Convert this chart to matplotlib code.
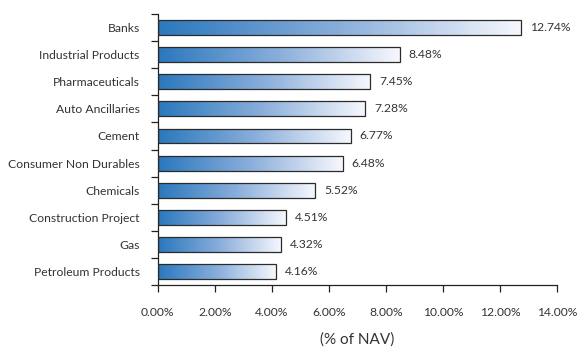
import matplotlib
matplotlib.use("Agg")
import matplotlib.pyplot as plt
import numpy as np
from matplotlib.colors import LinearSegmentedColormap
from matplotlib.ticker import FixedLocator

categories = ["Banks", "Industrial Products", "Pharmaceuticals", "Auto Ancillaries",
              "Cement", "Consumer Non Durables", "Chemicals", "Construction Project",
              "Gas", "Petroleum Products"]
values = [12.74, 8.48, 7.45, 7.28, 6.77, 6.48, 5.52, 4.51, 4.32, 4.16]
xticks = [0, 2, 4, 6, 8, 10, 12, 14]

plt.rcParams['font.family'] = ['Lato', 'DejaVu Sans']
fs = 8.7
txt = "#333333"

fig = plt.figure(figsize=(5.78, 3.49), dpi=100)
ax = fig.add_axes([0.273, 0.183, 0.691, 0.777])

n = len(categories)
ypos = np.arange(n)[::-1]
cmap = LinearSegmentedColormap.from_list("g", ["#2a78bd", "#8aaedb", "#f7f8fd"])
grad = np.linspace(0, 1, 256).reshape(1, -1)

bars = ax.barh(ypos, values, height=0.55, facecolor="none", edgecolor="#2b2b2b",
               linewidth=0.9, zorder=3)
for b, v in zip(bars, values):
    x0, y0, w, h = b.get_x(), b.get_y(), b.get_width(), b.get_height()
    im = ax.imshow(grad, cmap=cmap, aspect="auto", extent=[x0, x0 + w, y0, y0 + h],
                   zorder=2, interpolation="bicubic")
    im.set_clip_path(b)
    ax.text(x0 + w + 0.3, y0 + h / 2, f"{v:.2f}%", va="center", ha="left",
            fontsize=fs, color=txt)

ax.set_xlim(0, 14)
ax.set_ylim(-0.5, n - 0.5)
ax.set_xticks(xticks)
ax.set_xticklabels([f"{t:.2f}%" for t in xticks], fontsize=fs, color=txt)
ax.set_yticks(ypos)
ax.set_yticklabels(categories, fontsize=fs, color=txt)
ax.yaxis.set_minor_locator(FixedLocator(np.arange(-0.5, n, 1.0)))
ax.tick_params(axis="y", which="major", length=0, pad=13)
ax.tick_params(axis="y", which="minor", length=5, width=0.9, color="#222222")
ax.tick_params(axis="x", which="major", length=5, width=0.9, color="#222222", pad=11)
for s in ["top", "right"]:
    ax.spines[s].set_visible(False)
for s in ["left", "bottom"]:
    ax.spines[s].set_linewidth(0.9)
    ax.spines[s].set_color("#222222")
ax.set_xlabel("(% of NAV)", fontsize=11, color=txt, labelpad=10)

fig.savefig("out.png", dpi=100)
